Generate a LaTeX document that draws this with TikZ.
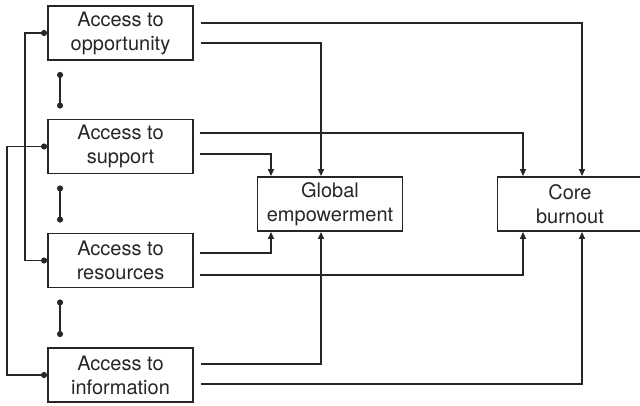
\documentclass[tikz,border=0pt]{standalone}
\usepackage{fontspec}
\setmainfont{TeX Gyre Heros}
\usetikzlibrary{arrows.meta}
\begin{document}
\begin{tikzpicture}[
			x = 1pt, y = -1pt,
			every node/.style = {font=\fontsize{20}{24}\selectfont, text=black!85},
			factor/.style = {draw=black!85, line width=1.9pt, minimum width=145pt, minimum height=54pt, inner sep=0pt, align=center},
			link/.style = {line width=1.8pt, draw=black!85, -{Triangle[length=7pt,width=6pt]}},
			tie/.style = {line width=1.8pt, draw=black!85, {Circle[length=6pt]}-{Circle[length=6pt]}}
			]
			\useasboundingbox (0,0) rectangle (640,405);

			\node[factor] (opp) at (120.5,33) {Access to\\opportunity};
			\node[factor] (sup) at (120.5,146.5) {Access to\\support};
			\node[factor] (res) at (120.5,260.5) {Access to\\resources};
			\node[factor] (inf) at (120.5,375) {Access to\\information};
			\node[factor] (glob) at (330,204) {Global\\empowerment};
			\node[factor] (core) at (570,204) {Core\\burnout};

			\draw[tie] ([xshift=13pt,yshift=-11pt]opp.south west) -- ([xshift=13pt,yshift=10pt]sup.north west);
			\draw[tie] ([xshift=13pt,yshift=-11pt]sup.south west) -- ([xshift=13pt,yshift=10pt]res.north west);
			\draw[tie] ([xshift=13pt,yshift=-11pt]res.south west) -- ([xshift=13pt,yshift=10pt]inf.north west);
			\draw[tie] (opp.west) -- ++(-22,0) |- (res.west);
			\draw[tie] (sup.west) -- ++(-40,0) |- (inf.west);

			\draw[link] ([xshift=7pt,yshift=10pt]opp.east) -| ([xshift=12pt]core.north);
			\draw[link] ([xshift=7pt,yshift=-10pt]opp.east) -| ([xshift=-9pt]glob.north);
			\draw[link] ([xshift=6pt,yshift=13.5pt]sup.east) -| ([xshift=-47pt]core.north);
			\draw[link] ([xshift=6pt,yshift=-7.5pt]sup.east) -| ([xshift=-59pt]glob.north);
			\draw[link] ([xshift=6pt,yshift=7.5pt]res.east) -| ([xshift=-59pt]glob.south);
			\draw[link] ([xshift=6pt,yshift=-14.5pt]res.east) -| ([xshift=-47pt]core.south);
			\draw[link] ([xshift=7pt,yshift=11pt]inf.east) -| ([xshift=-9pt]glob.south);
			\draw[link] ([xshift=7pt,yshift=-9pt]inf.east) -| ([xshift=12pt]core.south);

		\end{tikzpicture}
\end{document}
